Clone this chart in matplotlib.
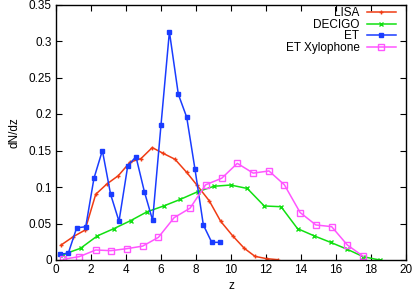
import matplotlib
matplotlib.use("Agg")
import matplotlib.pyplot as plt

lisa_z = [0.29, 0.99, 1.66, 2.27, 2.9, 3.56, 4.23, 4.86, 5.5, 6.13, 6.8, 7.47, 8.04, 8.76, 9.41, 10.1, 10.76, 11.37, 12.04, 12.7]
lisa_n = [0.0205, 0.032, 0.041, 0.090, 0.104, 0.1155, 0.134, 0.139, 0.154, 0.146, 0.138, 0.120, 0.103, 0.081, 0.053, 0.033, 0.016, 0.005, 0.0018, 0.0004]

decigo_z = [0.4, 1.4, 2.36, 3.31, 4.27, 5.2, 6.15, 7.1, 8.1, 9.03, 9.98, 10.93, 11.9, 12.86, 13.8, 14.76, 15.71, 16.65, 17.56, 18.5]
decigo_n = [0.0075, 0.016, 0.033, 0.043, 0.054, 0.066, 0.074, 0.083, 0.0936, 0.101, 0.1027, 0.098, 0.074, 0.073, 0.043, 0.033, 0.024, 0.0146, 0.0045, 0.0]

et_z = [0.23, 0.7, 1.18, 1.7, 2.17, 2.65, 3.12, 3.6, 4.1, 4.57, 5.05, 5.52, 6.0, 6.48, 6.99, 7.47, 7.94, 8.42, 8.9, 9.37]
et_n = [0.0082, 0.0091, 0.044, 0.0456, 0.112, 0.150, 0.090, 0.053, 0.129, 0.1415, 0.0936, 0.0545, 0.185, 0.3127, 0.227, 0.1955, 0.1247, 0.048, 0.0242, 0.0242]

xylo_z = [0.42, 1.33, 2.27, 3.14, 4.04, 4.95, 5.85, 6.75, 7.66, 8.55, 9.47, 10.36, 11.27, 12.17, 13.05, 13.95, 14.85, 15.75, 16.65, 17.56]
xylo_n = [0.001, 0.0046, 0.0137, 0.0128, 0.0155, 0.019, 0.031, 0.058, 0.071, 0.103, 0.112, 0.1324, 0.119, 0.122, 0.103, 0.065, 0.048, 0.0457, 0.0205, 0.005]

x_ticks = [0, 2, 4, 6, 8, 10, 12, 14, 16, 18, 20]
y_ticks = [0, 0.05, 0.1, 0.15, 0.2, 0.25, 0.3, 0.35]
y_labels = ["0", "0.05", "0.1", "0.15", "0.2", "0.25", "0.3", "0.35"]

plt.rcParams['font.family'] = ['Liberation Sans', 'DejaVu Sans']
fig = plt.figure(figsize=(4.15, 2.93), dpi=100)
ax = fig.add_axes([56/415, 1 - 260/293, (406-56)/415, (260-4.5)/293])

lw = 1.1
ax.plot(lisa_z, lisa_n, color='#f03c14', lw=lw, marker='+', ms=3.5, mew=1.0, label='LISA')
ax.plot(decigo_z, decigo_n, color='#11e011', lw=lw, marker='x', ms=3.5, mew=1.0, label='DECIGO')
ax.plot(et_z, et_n, color='#1a3cff', lw=lw, marker='s', ms=3.2, mew=1.0, label='ET')
ax.plot(xylo_z, xylo_n, color='#ff55ff', lw=lw, marker='s', ms=4.2, mew=1.0, mfc='none', label='ET Xylophone')

ax.set_xlim(0, 20)
ax.set_ylim(0, 0.35)
ax.set_xticks(x_ticks)
ax.set_xticklabels([str(t) for t in x_ticks])
ax.set_yticks(y_ticks)
ax.set_yticklabels(y_labels)
ax.tick_params(direction='in', length=4, width=0.8, top=True, right=True, labelsize=8.5, pad=3, colors='black')
for sp in ax.spines.values():
    sp.set_linewidth(1.0)
ax.set_xlabel('z', fontsize=8.5, labelpad=3)
ax.set_ylabel('dN/dz', fontsize=8.5, labelpad=6)

leg = ax.legend(loc='upper right', bbox_to_anchor=(0.98, 1.0), frameon=False, markerfirst=False,
                fontsize=8.5, handlelength=2.5, handletextpad=0.6, labelspacing=-0.05, numpoints=1,
                borderaxespad=0.0, borderpad=0.25)
leg._legend_box.align = 'right'

fig.savefig('out.png', dpi=100)
